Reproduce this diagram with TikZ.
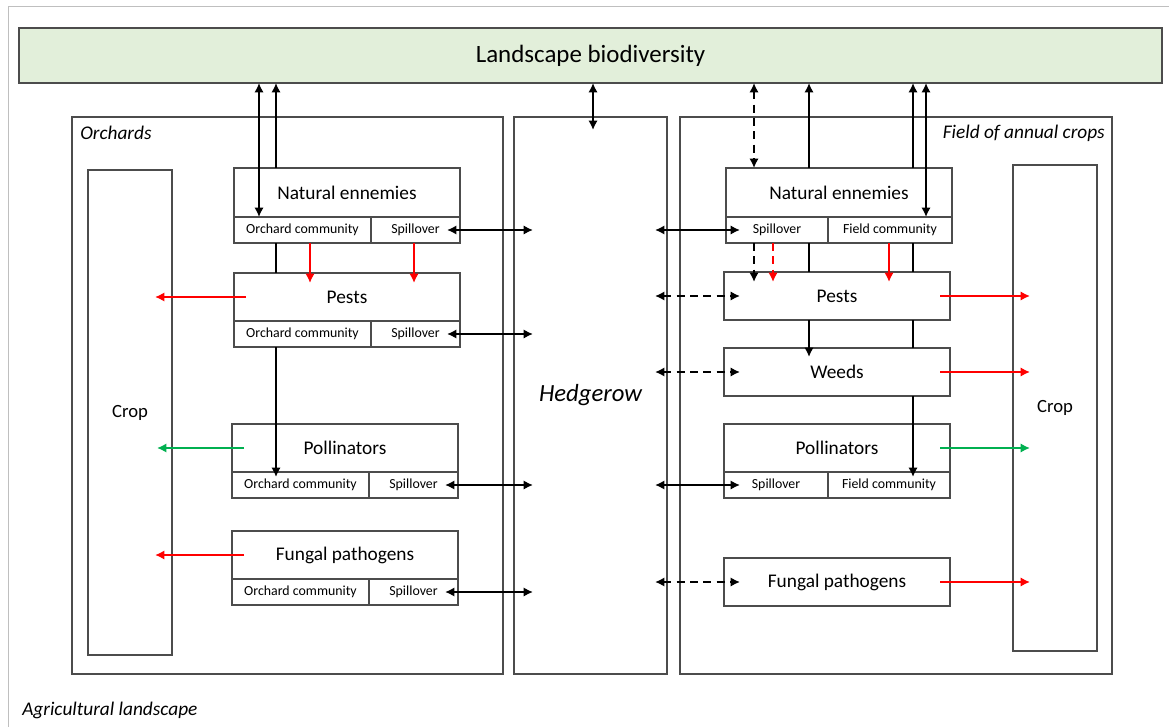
\documentclass[tikz,border=0pt]{standalone}
\usepackage{fontspec}
\setmainfont{Carlito}
\usetikzlibrary{positioning,arrows.meta}
\newdimen\unitpx \unitpx=0.75pt
\definecolor{landgreen}{HTML}{E2EFDA}
\definecolor{polgreen}{HTML}{00B050}
\tikzset{
  box/.style={draw=black!70, line width=0.8pt, inner sep=0pt, outer sep=0pt, font=\fontsize{14.5}{16}\selectfont},
  main/.style={box, minimum width=226*\unitpx, minimum height=48*\unitpx},
  sub/.style={box, minimum height=26*\unitpx, font=\fontsize{10.4}{12}\selectfont},
  tag/.style={inner sep=0pt, font=\fontsize{14.5}{16}\selectfont\itshape},
  plain/.style={line width=1.9pt},
  link/.style={line width=1.9pt, -{Latex[length=7pt,width=7pt]}},
  both/.style={line width=1.9pt, {Latex[length=7pt,width=7pt]}-{Latex[length=7pt,width=7pt]}},
  redlink/.style={link, line width=1.5pt, red},
  greenlink/.style={link, line width=1.5pt, polgreen},
  broken/.style={dash pattern=on 6pt off 4pt},
  tipin/.style={shorten >=-#1*\unitpx},
  tailin/.style={shorten <=-#1*\unitpx}
}
\begin{document}
\begin{tikzpicture}[x=0.75pt,y=-0.75pt]
\useasboundingbox (0,0) rectangle (1169,727);
\draw[black!25, line width=0.75pt] (8,727) -- (8,7) -- (1169,7);

\node[box, fill=landgreen, minimum width=1143*\unitpx, minimum height=55*\unitpx, font=\fontsize{18.7}{20}\selectfont] (land) at (590.5,55.5) {Landscape biodiversity};

\node[box, minimum width=431*\unitpx, minimum height=557*\unitpx] (orch) at (287.5,395.5) {};
\node[box, minimum width=153*\unitpx, minimum height=557*\unitpx, font=\fontsize{18.5}{20}\selectfont\itshape] (hedge) at (590.5,395.5) {Hedgerow};
\node[box, minimum width=432*\unitpx, minimum height=557*\unitpx] (field) at (896,395.5) {};
\node[box, minimum width=84*\unitpx, minimum height=485*\unitpx, font=\fontsize{14}{16}\selectfont] (lcrop) at (130,412.5) {Crop};
\node[box, minimum width=84*\unitpx, minimum height=486*\unitpx, font=\fontsize{14}{16}\selectfont] (rcrop) at (1055,408) {Crop};

\node[tag, anchor=west] (orchtag) at (80,133) {Orchards};
\node[tag, anchor=east] (fieldtag) at (1105,133) {Field of annual crops};
\node[tag, anchor=west] (agritag) at (22,710) {Agricultural landscape};

\node[main, minimum height=49*\unitpx] (lne) at (347,192.5) {Natural ennemies};
\node[sub, minimum width=137*\unitpx, below right=0pt and 0pt of lne.south west] (lneorch) {Orchard community};
\node[sub, minimum width=89*\unitpx, below left=0pt and 0pt of lne.south east] (lnespill) {Spillover};
\node[main] (lpests) at (347,297) {Pests};
\node[sub, minimum width=137*\unitpx, below right=0pt and 0pt of lpests.south west] (lpestorch) {Orchard community};
\node[sub, minimum width=89*\unitpx, below left=0pt and 0pt of lpests.south east] (lpestspill) {Spillover};
\node[main] (lpoll) at (345,448) {Pollinators};
\node[sub, minimum width=137*\unitpx, below right=0pt and 0pt of lpoll.south west] (lpollorch) {Orchard community};
\node[sub, minimum width=89*\unitpx, below left=0pt and 0pt of lpoll.south east] (lpollspill) {Spillover};
\node[main] (lfung) at (345,555) {Fungal pathogens};
\node[sub, minimum width=137*\unitpx, below right=0pt and 0pt of lfung.south west] (lfungorch) {Orchard community};
\node[sub, minimum width=89*\unitpx, below left=0pt and 0pt of lfung.south east] (lfungspill) {Spillover};

\node[main, minimum height=49*\unitpx] (rne) at (839,192.5) {Natural ennemies};
\node[sub, minimum width=102*\unitpx, below right=0pt and 0pt of rne.south west] (rnespill) {Spillover};
\node[sub, minimum width=124*\unitpx, below left=0pt and 0pt of rne.south east] (rnefield) {Field community};
\node[main] (rpests) at (837,296) {Pests};
\node[main] (rweeds) at (837,372) {Weeds};
\node[main] (rpoll) at (837,448) {Pollinators};
\node[sub, minimum width=104*\unitpx, below right=0pt and 0pt of rpoll.south west] (rpollspill) {Spillover};
\node[sub, minimum width=122*\unitpx, below left=0pt and 0pt of rpoll.south east] (rpollfield) {Field community};
\node[main] (rfung) at (837,582) {Fungal pathogens};

\coordinate (xa) at (259,0);
\coordinate (xb) at (276,0);
\coordinate (xr) at (310,0);
\coordinate (xs) at (414,0);
\coordinate (xh) at (593,0);
\coordinate (xc) at (754,0);
\coordinate (xd) at (773,0);
\coordinate (xe) at (809,0);
\coordinate (xf) at (889,0);
\coordinate (xg) at (913,0);
\coordinate (xk) at (926,0);

\draw[both] (land.south -| xa) -- (lneorch.north -| xa);
\draw[link] (lne.north -| xb) -- (land.south -| xb);
\draw[plain] (lneorch.south -| xb) -- (lpests.north -| xb);
\draw[link, tipin=5] (lpestorch.south -| xb) -- (lpollorch.north -| xb);
\draw[redlink, tipin=10] (lneorch.south -| xr) -- (lpests.north -| xr);
\draw[redlink, tipin=10] (lnespill.south -| xs) -- (lpests.north -| xs);
\draw[both, tipin=13] (land.south -| xh) -- (hedge.north -| xh);

\draw[both, broken] (land.south -| xc) -- (rne.north -| xc);
\draw[link, broken, tipin=10] (rnespill.south -| xc) -- (rpests.north -| xc);
\draw[redlink, broken, tipin=10] (rnespill.south -| xd) -- (rpests.north -| xd);
\draw[link] (rne.north -| xe) -- (land.south -| xe);
\draw[plain] (rnespill.south -| xe) -- (rpests.north -| xe);
\draw[link, tipin=9] (rpests.south -| xe) -- (rweeds.north -| xe);
\draw[redlink, tipin=10] (rnefield.south -| xf) -- (rpests.north -| xf);
\draw[link] (rne.north -| xg) -- (land.south -| xg);
\draw[plain] (rnefield.south -| xg) -- (rpests.north -| xg);
\draw[plain] (rpests.south -| xg) -- (rweeds.north -| xg);
\draw[link, tipin=5] (rweeds.south -| xg) -- (rpollfield.north -| xg);
\draw[both] (land.south -| xk) -- (rnefield.north -| xk);

\draw[both, tailin=13, tipin=19] (lnespill.east) -- (hedge.west |- lnespill.east);
\draw[both, tailin=13, tipin=19] (lpestspill.east) -- (hedge.west |- lpestspill.east);
\draw[both, tailin=13, tipin=19] (lpollspill.east) -- (hedge.west |- lpollspill.east);
\draw[both, tailin=13, tipin=19] (lfungspill.east) -- (hedge.west |- lfungspill.east);
\draw[both, tailin=12, tipin=14] (hedge.east |- rnespill.west) -- (rnespill.west);
\draw[both, broken, tailin=12, tipin=16] (hedge.east |- rpests.west) -- (rpests.west);
\draw[both, broken, tailin=12, tipin=16] (hedge.east |- rweeds.west) -- (rweeds.west);
\draw[both, tailin=12, tipin=16] (hedge.east |- rpollspill.west) -- (rpollspill.west);
\draw[both, broken, tailin=12, tipin=16] (hedge.east |- rfung.west) -- (rfung.west);

\draw[redlink, tailin=12, tipin=17] (lpests.west) -- (lcrop.east |- lpests.west);
\draw[greenlink, tailin=12, tipin=15] (lpoll.west) -- (lcrop.east |- lpoll.west);
\draw[redlink, tailin=12, tipin=17] (lfung.west) -- (lcrop.east |- lfung.west);
\draw[redlink, tailin=10, tipin=17] (rpests.east) -- (rcrop.west |- rpests.east);
\draw[redlink, tailin=10, tipin=17] (rweeds.east) -- (rcrop.west |- rweeds.east);
\draw[greenlink, tailin=10, tipin=17] (rpoll.east) -- (rcrop.west |- rpoll.east);
\draw[redlink, tailin=10, tipin=17] (rfung.east) -- (rcrop.west |- rfung.east);
\end{tikzpicture}
\end{document}
